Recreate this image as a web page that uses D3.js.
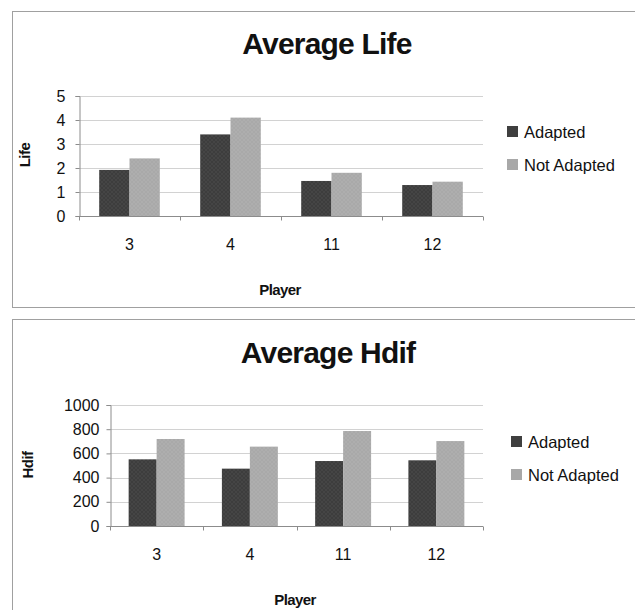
<!DOCTYPE html>
<html>
<head>
<meta charset="utf-8">
<script src="https://cdn.jsdelivr.net/npm/d3@7"></script>
<style>
  html, body { margin: 0; padding: 0; background: #ffffff; }
  svg { display: block; }
  text { font-family: "Liberation Sans", Arial, sans-serif; fill: #111; }
</style>
</head>
<body>
<svg id="chart" width="635" height="610"></svg>
<script>
// Players compared in both panels
const players = ["3", "4", "11", "12"];
const seriesNames = ["Adapted", "Not Adapted"];

// Average Life per player
const lifeAdapted    = [1.92, 3.40, 1.46, 1.29];
const lifeNotAdapted = [2.40, 4.10, 1.80, 1.43];
const lifeTicks      = [0, 1, 2, 3, 4, 5];

// Average Hdif per player
const hdifAdapted    = [551, 474, 537, 543];
const hdifNotAdapted = [719, 656, 785, 702];
const hdifTicks      = [0, 200, 400, 600, 800, 1000];

const svg = d3.select("#chart");
const defs = svg.append("defs");

// Fine cross-hatch fills for the two series
function hatch(id, base, line) {
  const p = defs.append("pattern")
    .attr("id", id).attr("patternUnits", "userSpaceOnUse")
    .attr("width", 4).attr("height", 4);
  p.append("rect").attr("width", 4).attr("height", 4).attr("fill", base);
  p.append("path").attr("d", "M0,4 L4,0 M0,0 L4,4")
    .attr("stroke", line).attr("stroke-width", 0.5).attr("opacity", 0.5);
}
hatch("fillAdapted", "#3d3d3d", "#5a5a5a");
hatch("fillNot", "#a9a9a9", "#bdbdbd");
const fills = ["url(#fillAdapted)", "url(#fillNot)"];
const swatch = ["#3f3f3f", "#a8a8a8"];

function panel(cfg) {
  const g = svg.append("g");

  // outer frame
  g.append("rect")
    .attr("x", 12.5).attr("y", cfg.frameTop + 0.5)
    .attr("width", 640).attr("height", cfg.frameH)
    .attr("fill", "none").attr("stroke", "#a0a0a0").attr("stroke-width", 1);

  const x = d3.scaleBand().domain(players).range([cfg.left, cfg.right]);
  const y = d3.scaleLinear().domain([0, cfg.ticks[cfg.ticks.length - 1]])
    .range([cfg.bottom, cfg.top]);
  // the bar pair fills the middle 60% of each category slot
  const inner = d3.scaleBand().domain(seriesNames)
    .range([x.bandwidth() * 0.2, x.bandwidth() * 0.8]);

  // gridlines
  g.append("g").selectAll("line").data(cfg.ticks.slice(1)).join("line")
    .attr("x1", cfg.left).attr("x2", cfg.right)
    .attr("y1", d => Math.round(y(d)) + 0.5).attr("y2", d => Math.round(y(d)) + 0.5)
    .attr("stroke", "#d2d2d2").attr("stroke-width", 1);

  // bars
  const series = [cfg.a, cfg.b];
  seriesNames.forEach((s, si) => {
    g.append("g").selectAll("rect").data(players).join("rect")
      .attr("x", (d) => x(d) + inner(s))
      .attr("width", inner.bandwidth())
      .attr("y", (d, i) => y(series[si][i]))
      .attr("height", (d, i) => y(0) - y(series[si][i]))
      .attr("fill", fills[si]);
  });

  // y axis
  const yAxis = g.append("g")
    .attr("transform", `translate(${cfg.left + 0.5},0)`)
    .call(d3.axisLeft(y).tickValues(cfg.ticks).tickFormat(d3.format("d"))
      .tickSize(4).tickPadding(cfg.tickPad));
  yAxis.select(".domain").attr("stroke", "#8c8c8c");
  yAxis.selectAll(".tick line").attr("stroke", "#8c8c8c");
  yAxis.selectAll(".tick text")
    .attr("font-size", 16).attr("fill", "#1a1a1a")
    .style("font-family", '"Liberation Sans", Arial, sans-serif');

  // x axis with separators between categories
  const xAxis = g.append("g")
    .attr("transform", `translate(0,${cfg.bottom + 0.5})`);
  xAxis.append("line").attr("x1", cfg.left).attr("x2", cfg.right)
    .attr("stroke", "#8c8c8c");
  const seps = players.map(p => x(p)).concat([cfg.right]);
  xAxis.selectAll("line.sep").data(seps).join("line").attr("class", "sep")
    .attr("x1", d => Math.round(d) + 0.5).attr("x2", d => Math.round(d) + 0.5)
    .attr("y1", 0).attr("y2", 4).attr("stroke", "#8c8c8c");
  xAxis.selectAll("text").data(players).join("text")
    .attr("x", d => x(d) + x.bandwidth() / 2)
    .attr("y", 33)
    .attr("text-anchor", "middle")
    .attr("font-size", 16).attr("fill", "#1a1a1a")
    .text(d => d);

  // title
  g.append("text")
    .attr("x", cfg.titleX).attr("y", cfg.titleY)
    .attr("text-anchor", "middle")
    .attr("font-size", 30).attr("font-weight", "bold")
    .attr("letter-spacing", -0.8)
    .text(cfg.title);

  // axis titles
  g.append("text")
    .attr("x", cfg.playerX).attr("y", cfg.playerY)
    .attr("text-anchor", "middle")
    .attr("font-size", 15).attr("font-weight", "bold")
    .attr("letter-spacing", -0.6)
    .text("Player");
  g.append("text")
    .attr("transform", `translate(${cfg.yTitleX},${cfg.yTitleY}) rotate(-90)`)
    .attr("text-anchor", "middle")
    .attr("font-size", 15).attr("font-weight", "bold")
    .attr("letter-spacing", -0.5)
    .text(cfg.yTitle);

  // legend
  const lg = g.append("g").attr("transform", `translate(${cfg.legX},${cfg.legY})`);
  seriesNames.forEach((s, i) => {
    lg.append("rect").attr("x", 0).attr("y", i * 33 - 6)
      .attr("width", 11).attr("height", 11).attr("fill", swatch[i]);
    lg.append("text").attr("x", 17).attr("y", i * 33 + 5.5)
      .attr("font-size", 16.5).attr("fill", "#1a1a1a")
      .text(s);
  });
}

panel({
  frameTop: 11, frameH: 296,
  left: 79, right: 483, top: 96, bottom: 216,
  ticks: lifeTicks, a: lifeAdapted, b: lifeNotAdapted, tickPad: 10,
  title: "Average Life", titleX: 327, titleY: 54,
  yTitle: "Life", yTitleX: 30, yTitleY: 155,
  playerX: 280, playerY: 295,
  legX: 507, legY: 132
});

panel({
  frameTop: 319, frameH: 300,
  left: 110, right: 483, top: 405, bottom: 526,
  ticks: hdifTicks, a: hdifAdapted, b: hdifNotAdapted, tickPad: 7,
  title: "Average Hdif", titleX: 328, titleY: 363,
  yTitle: "Hdif", yTitleX: 33, yTitleY: 465,
  playerX: 295, playerY: 605,
  legX: 511, legY: 442
});
</script>
</body>
</html>
